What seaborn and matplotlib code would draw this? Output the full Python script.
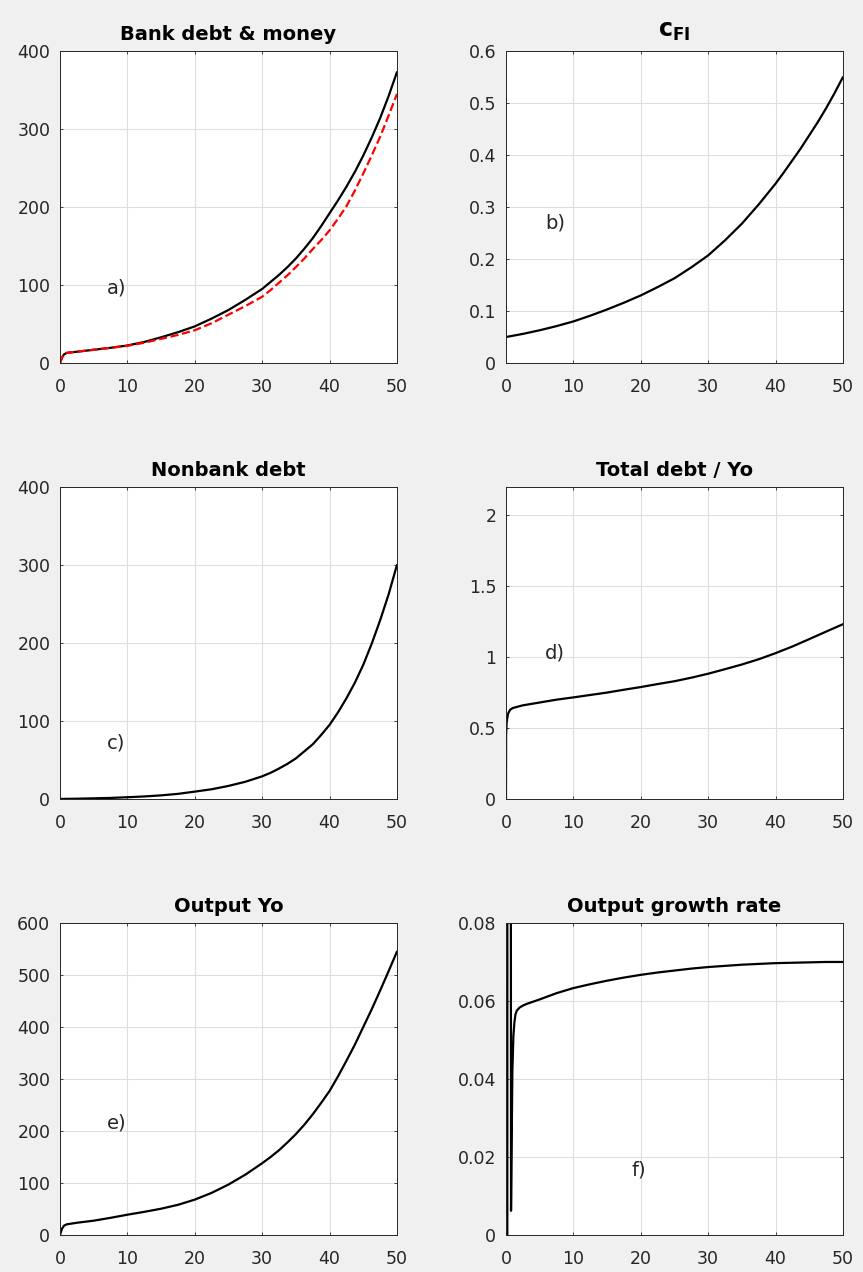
import matplotlib
matplotlib.use('Agg')
import matplotlib.pyplot as plt
import seaborn as sns
from matplotlib.ticker import FuncFormatter

# ---- data ----
# a) Bank debt & money
t_bank = [0, 0.3, 0.6, 1, 2.5, 5, 7.5, 10, 12.5, 15, 17.5, 20, 22.5, 25,
          27.5, 30, 31.25, 32.5, 33.75, 35, 36.25, 37.5, 38.75, 40, 41.25,
          42.5, 43.75, 45, 46.25, 47.5, 48.75, 50]
bank_debt = [0, 7, 11, 13, 14.5, 17, 19.5, 22.5, 27, 33, 39.5, 47, 57, 68,
             81, 95, 104, 113, 123, 134, 146.5, 160, 175.5, 192, 208.5,
             226, 245, 266, 289, 314, 342, 373]
money = [0, 7, 11, 13, 14.5, 17, 19.5, 22, 26, 31, 36, 42, 51, 62,
         73, 85, 93.5, 103, 112.5, 123, 134, 146, 157.5, 170, 185,
         201, 221, 243, 266, 290, 317, 345]

# b) c_FI
t_cfi = [0, 2.5, 5, 7.5, 10, 12.5, 15, 17.5, 20, 22.5, 25, 27.5, 30, 32.5,
         35, 37.5, 40, 41.25, 42.5, 43.75, 45, 46.25, 47.5, 48.75, 50]
c_fi = [0.050, 0.056, 0.063, 0.071, 0.080, 0.091, 0.103, 0.116, 0.130, 0.146,
        0.163, 0.184, 0.207, 0.236, 0.268, 0.305, 0.345, 0.367, 0.39, 0.413,
        0.438, 0.463, 0.49, 0.519, 0.55]

# c) Nonbank debt
t_nonbank = [0, 2.5, 5, 7.5, 10, 12.5, 15, 17.5, 20, 22.5, 25, 27.5, 30,
             31.25, 32.5, 33.75, 35, 36.25, 37.5, 38.75, 40, 41.25, 42.5,
             43.75, 45, 46.25, 47.5, 48.75, 50]
nonbank_debt = [0, 0.3, 0.8, 1.3, 2.2, 3.2, 4.6, 6.5, 9.4, 12.4, 16.7, 22, 29,
                33.5, 39, 45, 52, 61, 70, 82, 95, 111, 129,
                149, 172, 199, 229, 262, 300]

# d) Total debt / Yo
t_ratio = [0, 0.02, 0.1, 0.3, 0.6, 1, 2.5, 5, 7.5, 10, 12.5, 15, 17.5, 20,
           22.5, 25, 27.5, 30, 32.5, 35, 37.5, 40, 42.5, 45, 47.5, 50]
debt_ratio = [0, 0.45, 0.54, 0.6, 0.628, 0.641, 0.66, 0.68, 0.70, 0.716, 0.733,
              0.75, 0.77, 0.789, 0.81, 0.83, 0.855, 0.883, 0.915, 0.948, 0.985,
              1.028, 1.075, 1.127, 1.18, 1.232]

# e) Output Yo
t_output = [0, 0.3, 0.6, 1, 2.5, 5, 7.5, 10, 12.5, 15, 17.5, 20, 22.5, 25,
            27.5, 30, 31.25, 32.5, 33.75, 35, 36.25, 37.5, 38.75, 40, 41.25,
            42.5, 43.75, 45, 46.25, 47.5, 48.75, 50]
output_yo = [0, 12, 18, 20.5, 23.5, 27.5, 33, 39, 44.5, 50.5, 58, 68, 81, 97,
             116, 138, 150, 163, 178, 194, 212, 232, 254, 277, 305,
             335, 366, 400, 434, 470, 507, 545]

# f) Output growth rate
t_growth = [0.2, 0.22, 0.6, 0.75, 0.85, 0.95, 1.1, 1.25, 1.4, 1.6, 2.0, 2.5, 3,
            4, 5, 7.5, 10, 12.5, 15, 17.5, 20, 22.5, 25, 27.5, 30, 32.5, 35,
            37.5, 40, 42.5, 45, 47.5, 50]
growth_rate = [0, 0.5, 0.5, 0.0062, 0.025, 0.042, 0.051, 0.0545, 0.0565, 0.0575,
               0.0583, 0.0588, 0.0592, 0.0598, 0.0604, 0.062, 0.0633, 0.0643,
               0.0652, 0.066, 0.0667, 0.0673, 0.0678, 0.0683, 0.0687, 0.069,
               0.0693, 0.0695, 0.0697, 0.0698, 0.0699, 0.07, 0.07]

sns.set_theme(style='white')
plt.rcParams['font.family'] = ['DejaVu Sans']

fig = plt.figure(figsize=(8.63, 12.72), dpi=100, facecolor='#f0f0f0')

col_left = [0.0695, 0.5863]
row_bottom = [0.7146, 0.3719, 0.0291]
w, h = 0.3905, 0.2453

fmt = FuncFormatter(lambda v, p: f'{v:g}')


def style_axes(ax, yticks, ylim, title, title_pad=8, title_size=14):
    ax.set_facecolor('white')
    ax.set_xlim(0, 50)
    ax.set_ylim(*ylim)
    ax.set_xticks(range(0, 51, 10))
    ax.set_yticks(yticks)
    ax.yaxis.set_major_formatter(fmt)
    ax.grid(True, color='#dedede', linewidth=0.8)
    ax.set_axisbelow(True)
    ax.tick_params(direction='in', length=2.5, width=0.6, color='#262626',
                   labelcolor='#262626', labelsize=12.5,
                   top=True, right=True, bottom=True, left=True)
    ax.tick_params(axis='x', pad=11)
    ax.tick_params(axis='y', pad=7)
    for s in ax.spines.values():
        s.set_visible(True)
        s.set_color('#262626')
        s.set_linewidth(0.7)
    ax.set_title(title, fontsize=title_size, fontweight='bold', pad=title_pad,
                 color='black')
    ax.set_xlabel('')
    ax.set_ylabel('')


def panel(col, row):
    return fig.add_axes([col_left[col], row_bottom[row], w, h])


# a) Bank debt & money
ax = panel(0, 0)
sns.lineplot(x=t_bank, y=bank_debt, ax=ax, color='black', linewidth=1.6,
             sort=False, estimator=None)
sns.lineplot(x=t_bank, y=money, ax=ax, color='red', linewidth=1.6,
             linestyle='--', sort=False, estimator=None)
style_axes(ax, range(0, 401, 100), (0, 400), 'Bank debt & money')
ax.text(7, 96, 'a)', fontsize=14, va='center', ha='left')

# b) c_FI
ax = panel(1, 0)
sns.lineplot(x=t_cfi, y=c_fi, ax=ax, color='black', linewidth=1.6,
             sort=False, estimator=None)
style_axes(ax, [0, 0.1, 0.2, 0.3, 0.4, 0.5, 0.6], (0, 0.6),
           r'$\mathbf{c}_{\mathbf{FI}}$', title_pad=10, title_size=17)
ax.text(5.9, 0.27, 'b)', fontsize=14, va='center', ha='left')

# c) Nonbank debt
ax = panel(0, 1)
sns.lineplot(x=t_nonbank, y=nonbank_debt, ax=ax, color='black', linewidth=1.6,
             sort=False, estimator=None)
style_axes(ax, range(0, 401, 100), (0, 400), 'Nonbank debt')
ax.text(7, 72, 'c)', fontsize=14, va='center', ha='left')

# d) Total debt / Yo
ax = panel(1, 1)
sns.lineplot(x=t_ratio, y=debt_ratio, ax=ax, color='black', linewidth=1.6,
             sort=False, estimator=None)
style_axes(ax, [0, 0.5, 1, 1.5, 2], (0, 2.2), 'Total debt / Yo')
ax.text(5.7, 1.03, 'd)', fontsize=14, va='center', ha='left')

# e) Output Yo
ax = panel(0, 2)
sns.lineplot(x=t_output, y=output_yo, ax=ax, color='black', linewidth=1.6,
             sort=False, estimator=None)
style_axes(ax, range(0, 601, 100), (0, 600), 'Output Yo')
ax.text(7, 215, 'e)', fontsize=14, va='center', ha='left')

# f) Output growth rate
ax = panel(1, 2)
sns.lineplot(x=t_growth, y=growth_rate, ax=ax, color='black', linewidth=1.6,
             sort=False, estimator=None)
style_axes(ax, [0, 0.02, 0.04, 0.06, 0.08], (0, 0.08), 'Output growth rate')
ax.text(18.6, 0.0167, 'f)', fontsize=14, va='center', ha='left')

fig.savefig('out.png', dpi=100, facecolor=fig.get_facecolor())
